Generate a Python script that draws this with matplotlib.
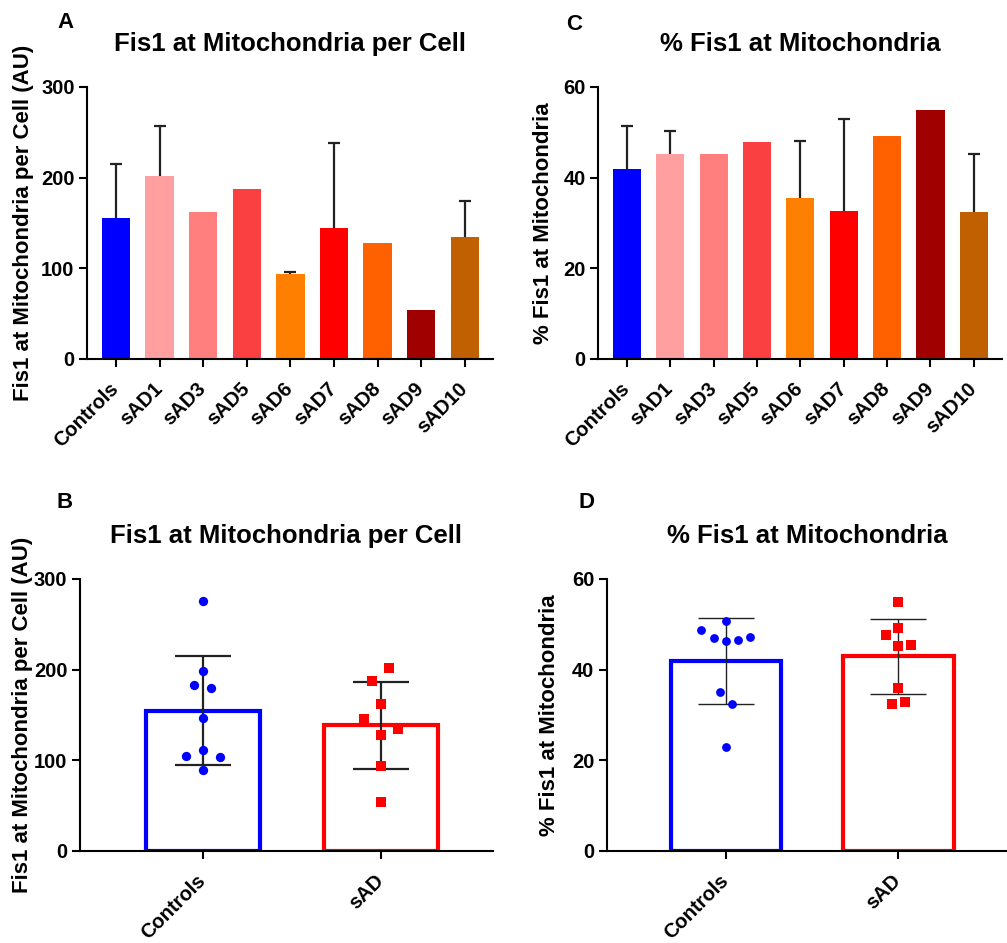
import numpy as np
import matplotlib.pyplot as plt

plt.rcParams['font.family'] = ['Liberation Sans', 'DejaVu Sans']
plt.rcParams['font.weight'] = 'bold'

# per cell line (panels A and C)
lines = ["Controls", "sAD1", "sAD3", "sAD5", "sAD6", "sAD7", "sAD8", "sAD9", "sAD10"]
line_colors = ["#0000FF", "#FF9F9F", "#FF7F7F", "#FA4040", "#FF8000",
               "#FF0000", "#FF6000", "#A00000", "#C06000"]

percell_mean = [155.1, 202.0, 162.5, 188.0, 93.9, 144.5, 128.0, 54.3, 135.0]
percell_sd = [60.5, 55.5, 0, 0, 1.8, 93.2, 0, 0, 38.8]

pct_mean = [42.0, 45.3, 45.3, 47.8, 35.6, 32.7, 49.1, 54.9, 32.5]
pct_sd = [9.3, 4.9, 0, 0, 12.4, 20.3, 0, 0, 12.7]

# grouped (panels B and D), individual values
groups = ["Controls", "sAD"]
group_colors = ["#0000FF", "#FF0000"]

percell_ctrl = [275.7, 198.9, 182.7, 179.8, 147.0, 111.4, 104.8, 104.0, 89.7]
percell_sad = [201.8, 187.9, 162.1, 145.2, 134.9, 127.9, 94.1, 54.4]
pct_ctrl = [50.7, 48.8, 47.0, 46.4, 46.5, 47.1, 35.1, 32.5, 22.9]
pct_sad = [55.0, 49.1, 47.7, 45.3, 45.4, 35.9, 32.4, 32.8]

# scatter slots (horizontal spreading of overlapping points)
slots_B = [[0, 0, -1, 1, 0, 0, -2, 2, 0], [1, -1, 0, -2, 2, 0, 0, 0]]
slots_D = [[0, -4, -2, 0, 2, 4, -1, 1, 0], [0, 0, -2, 0, 2, 0, -1, 1]]

W, H = 1007, 943
fig = plt.figure(figsize=(W / 100, H / 100), dpi=100)


def px_axes(l, t, r, b):
    return fig.add_axes([l / W, 1 - b / H, (r - l) / W, (b - t) / H])


def style(ax, ymax, step, ylabel, title, lab_x):
    for s in ["top", "right"]:
        ax.spines[s].set_visible(False)
    for s in ["left", "bottom"]:
        ax.spines[s].set_linewidth(1.5)
        ax.spines[s].set_zorder(5)
    ax.set_ylim(0, ymax)
    ax.set_yticks(np.arange(0, ymax + 1, step))
    ax.tick_params(width=1.5, length=6, labelsize=14.5)
    ax.tick_params(axis="y", pad=3)
    ax.tick_params(axis="x", pad=13)
    for t in ax.get_xticklabels():
        t.set_verticalalignment("center")
    ax.set_ylabel(ylabel, fontsize=16, fontweight="bold")
    ax.yaxis.set_label_coords(lab_x, 0.5)
    ax.set_title(title, fontsize=18.5, fontweight="bold", pad=26)


def per_line(ax, mean, sd, ymax, step, ylabel, title, lab_x):
    x = np.arange(len(lines))
    mean = np.array(mean)
    sd = np.array(sd)
    ax.bar(x, mean, width=0.65, color=line_colors, zorder=2)
    has = sd > 0
    ax.vlines(x[has], mean[has], mean[has] + sd[has], color="#222222", lw=1.6, zorder=3)
    ax.hlines(mean[has] + sd[has], x[has] - 0.14, x[has] + 0.14, color="#222222", lw=1.6, zorder=3)
    ax.set_xlim(-0.667, 8.65)
    ax.set_xticks(x, lines, rotation=45, ha="right", rotation_mode="anchor")
    style(ax, ymax, step, ylabel, title, lab_x)


def grouped(ax, ctrl, sad, slots, step_x, sizes, elw, ymax, step, ylabel, title, lab_x):
    x = np.arange(2)
    data = [np.array(ctrl), np.array(sad)]
    means = [d.mean() for d in data]
    sds = [d.std(ddof=1) for d in data]
    ax.bar(x, means, width=0.64, facecolor="white", edgecolor=group_colors, lw=3, zorder=2)
    ax.errorbar(x, means, yerr=sds, fmt="none", ecolor="#222222", elinewidth=elw,
                capsize=20.5, capthick=elw, zorder=3)
    markers = ["o", "s"]
    for i, d in enumerate(data):
        ax.scatter(x[i] + np.array(slots[i]) * step_x, d, marker=markers[i], s=sizes[i],
                   color=group_colors[i], lw=0, zorder=4)
    ax.set_xlim(-0.69, 1.63)
    ax.set_xticks(x, groups, rotation=45, ha="right", rotation_mode="anchor")
    style(ax, ymax, step, ylabel, title, lab_x)


axA = px_axes(87, 87, 493, 359)
axC = px_axes(598, 87, 1002, 359)
axB = px_axes(80, 579, 493, 851)
axD = px_axes(607, 579, 1007, 851)

per_line(axA, percell_mean, percell_sd, 300, 100,
         "Fis1 at Mitochondria per Cell (AU)", "Fis1 at Mitochondria per Cell", -0.13)
per_line(axC, pct_mean, pct_sd, 60, 20,
         "% Fis1 at Mitochondria", "% Fis1 at Mitochondria", -0.11)
grouped(axB, percell_ctrl, percell_sad, slots_B, 0.047, [45, 55], 1.6, 300, 100,
        "Fis1 at Mitochondria per Cell (AU)", "Fis1 at Mitochondria per Cell", -0.114)
grouped(axD, pct_ctrl, pct_sad, slots_D, 0.0355, [40, 45], 1.0, 60, 20,
        "% Fis1 at Mitochondria", "% Fis1 at Mitochondria", -0.117)

for lab, (px, py) in zip("ACBD", [(65, 22), (574, 25), (65, 502), (587, 502)]):
    fig.text(px / W, 1 - py / H, lab, fontsize=16, fontweight="bold", ha="center", va="center")

fig.savefig("out.png", dpi=100)
